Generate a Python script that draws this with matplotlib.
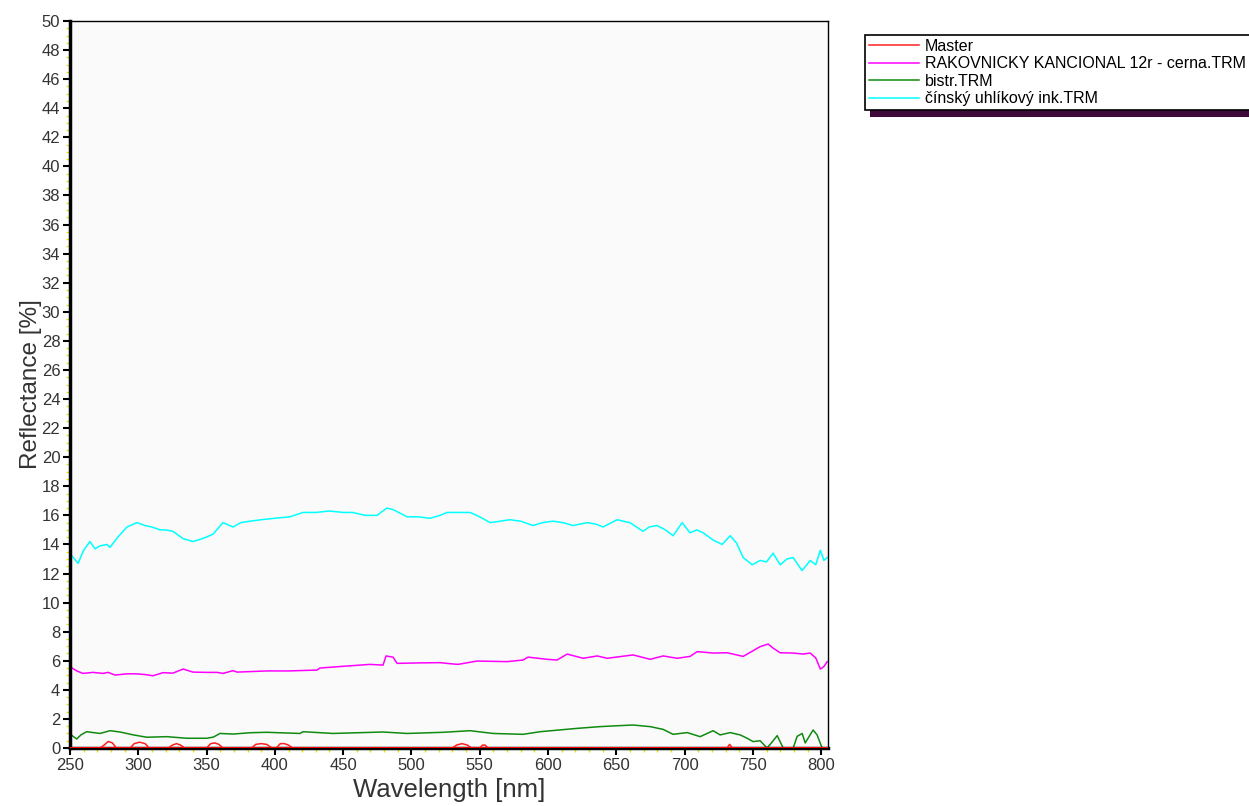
import matplotlib.pyplot as plt
from matplotlib.patches import Rectangle
from matplotlib.ticker import MultipleLocator

plt.rcParams['font.family'] = ['Liberation Sans', 'DejaVu Sans']

# --- data (wavelength nm, reflectance %) ---
cyan_nm = [250, 251.5, 255.9, 260, 264.6, 268.3, 272, 277, 279.3, 285, 291.7, 299, 305, 310,
           316, 320, 325.4, 332.8, 340, 347, 354.7, 362, 369.4, 375, 381.8, 390, 400, 411,
           420.6, 430, 440, 450, 457, 466, 474.8, 482, 486.5, 496.8, 505, 513.6, 521, 526,
           535, 543, 550, 557.6, 565, 572, 580, 589, 596, 603.7, 611, 618.4, 628.6, 635,
           640.3, 650.6, 655, 660, 669.6, 674, 679.9, 686, 691.6, 698.2, 704, 709, 713.6,
           720.9, 727.5, 733.4, 738, 742.9, 749.5, 755.3, 760, 764.8, 770, 775, 779.5, 786,
           792, 796, 799.4, 802, 804.4]
cyan_val = [13.0, 13.2, 12.7, 13.6, 14.2, 13.7, 13.9, 14.0, 13.8, 14.5, 15.2, 15.5, 15.3, 15.2,
            15.0, 15.0, 14.9, 14.4, 14.2, 14.4, 14.7, 15.5, 15.2, 15.5, 15.6, 15.7, 15.8, 15.9,
            16.2, 16.2, 16.3, 16.2, 16.2, 16.0, 16.0, 16.5, 16.4, 15.9, 15.9, 15.8, 16.0, 16.2,
            16.2, 16.2, 15.9, 15.5, 15.6, 15.7, 15.6, 15.3, 15.5, 15.6, 15.5, 15.3, 15.5, 15.4,
            15.2, 15.7, 15.6, 15.5, 14.9, 15.2, 15.3, 15.0, 14.6, 15.5, 14.8, 15.0, 14.8,
            14.3, 14.0, 14.6, 14.1, 13.1, 12.6, 12.9, 12.8, 13.4, 12.6, 13.0, 13.1, 12.2,
            12.9, 12.6, 13.6, 12.9, 13.1]

magenta_nm = [250, 251.5, 255, 259.5, 266.8, 274.2, 277.8, 283, 291.7, 299, 305, 310.8, 318.1,
              325.4, 332.8, 340, 350, 357.7, 362, 369.4, 372.3, 394.3, 410, 430.9, 433, 453,
              469.7, 479.2, 481.4, 486.5, 489.5, 504, 521, 528, 534.1, 548, 570, 581.7, 585.4,
              599.3, 606.6, 614, 625.7, 636, 643.3, 662.3, 674.8, 684.3, 694.6, 704, 709.2,
              720.9, 731.2, 742.9, 755.3, 761.2, 764.8, 770, 779.5, 786.8, 792, 796, 799.4,
              802, 804.4]
magenta_val = [5.6, 5.5, 5.3, 5.13, 5.2, 5.13, 5.2, 5.02, 5.1, 5.1, 5.05, 4.97, 5.18,
               5.15, 5.43, 5.22, 5.2, 5.2, 5.13, 5.32, 5.22, 5.3, 5.3, 5.36, 5.5, 5.64,
               5.75, 5.7, 6.33, 6.25, 5.82, 5.85, 5.87, 5.8, 5.75, 5.98, 5.94, 6.05, 6.25,
               6.1, 6.05, 6.46, 6.17, 6.33, 6.17, 6.4, 6.1, 6.33, 6.17, 6.3, 6.63,
               6.53, 6.55, 6.3, 6.97, 7.15, 6.87, 6.55, 6.53, 6.46, 6.53, 6.2, 5.43,
               5.6, 5.94]

green_nm = [250, 254.9, 258, 262.2, 272, 279.3, 286.6, 296.4, 306.2, 320.8, 335.5, 350.1, 355,
            359.8, 369.6, 381.8, 394, 418.4, 420.6, 442.6, 479.2, 496.8, 523.2, 542.9, 559.8,
            581.7, 594.2, 621.3, 638.1, 650.6, 662.3, 674.8, 684.3, 691.6, 701.9, 711.4, 720.9,
            726, 733.4, 740.7, 745.8, 750.2, 755.3, 760.4, 764, 767.8, 772.2, 779.5, 782.4,
            786.1, 788.3, 794.1, 797, 800.7, 804]
green_val = [0.96, 0.62, 0.9, 1.12, 1.0, 1.19, 1.1, 0.9, 0.74, 0.78, 0.67, 0.67, 0.75,
             1.0, 0.96, 1.05, 1.08, 1.0, 1.12, 1.0, 1.1, 1.0, 1.08, 1.19, 1.0,
             0.94, 1.12, 1.35, 1.47, 1.53, 1.58, 1.47, 1.28, 0.94, 1.06, 0.78, 1.19,
             0.9, 1.06, 0.9, 0.67, 0.44, 0.5, 0.0, 0.4, 0.85, 0.0, 0.0, 0.8,
             1.0, 0.35, 1.24, 0.9, 0.0, 0.0]

master_nm = [250, 272, 275, 278, 281, 284, 294, 297, 301, 305, 308, 322, 325, 328, 331, 334,
             350, 353, 356, 359, 362, 383, 386, 390, 394, 398, 401, 404, 407, 410, 413,
             530, 533, 537, 541, 544, 550, 552, 554, 556, 731, 733, 735, 805]
master_val = [0, 0, 0.2, 0.45, 0.35, 0, 0, 0.3, 0.4, 0.3, 0, 0, 0.2, 0.3, 0.2, 0,
              0, 0.3, 0.35, 0.25, 0, 0, 0.25, 0.3, 0.25, 0, 0, 0.3, 0.3, 0.2, 0,
              0, 0.2, 0.3, 0.2, 0, 0, 0.2, 0.2, 0, 0, 0.25, 0, 0]

labels = ['Master', 'RAKOVNICKY KANCIONAL 12r - cerna.TRM', 'bistr.TRM',
          'čínský uhlíkový ink.TRM']

fig = plt.figure(figsize=(12.49, 8.06), dpi=100)
ax = fig.add_axes([70 / 1249, 58 / 806, 758 / 1249, 727 / 806])
ax.set_facecolor('#fafafa')

lw = 1.1
ax.plot(master_nm, master_val, color='#ff2020', lw=lw, label=labels[0], zorder=4)
ax.plot(magenta_nm, magenta_val, color='#ff00ff', lw=lw, label=labels[1])
ax.plot(green_nm, green_val, color='#108a10', lw=lw, label=labels[2])
ax.plot(cyan_nm, cyan_val, color='#00ffff', lw=lw, label=labels[3])
ax.axhline(0, color='#ff0000', lw=2, zorder=5)

ax.set_xlim(250, 805)
ax.set_ylim(0, 50)
ax.xaxis.set_major_locator(MultipleLocator(50))
ax.xaxis.set_minor_locator(MultipleLocator(10))
ax.yaxis.set_major_locator(MultipleLocator(2))
ax.yaxis.set_minor_locator(MultipleLocator(0.5))
ax.tick_params(which='major', direction='out', length=5, width=1.5, color='black',
               labelsize=12, labelcolor='#333333', pad=2)
ax.tick_params(which='minor', direction='out', length=3, width=1.0, color='#e6e600')

for side in ['left', 'bottom']:
    ax.spines[side].set_linewidth(2.5)
for side in ['top', 'right']:
    ax.spines[side].set_linewidth(1.0)

ax.set_xlabel('Wavelength [nm]', fontsize=18.5, color='#333333', labelpad=4)
ax.set_ylabel('Reflectance [%]', fontsize=17.5, color='#333333', labelpad=0)

# legend box, partly off the right edge like the original
leg = fig.legend(loc='upper left', bbox_to_anchor=(865 / 1249, 1 - 35 / 806),
                 borderaxespad=0, fontsize=11.5, frameon=True, fancybox=False,
                 edgecolor='black', framealpha=1, handlelength=3.1, handletextpad=0.4,
                 labelspacing=0.15, borderpad=0.25)
leg.get_frame().set_linewidth(1.2)
fig.patches.append(Rectangle((870 / 1249, 1 - 117 / 806), 380 / 1249, 9 / 806,
                             transform=fig.transFigure, facecolor='#3d0a3a',
                             edgecolor='none', zorder=0))

fig.savefig('out.png', dpi=100)
